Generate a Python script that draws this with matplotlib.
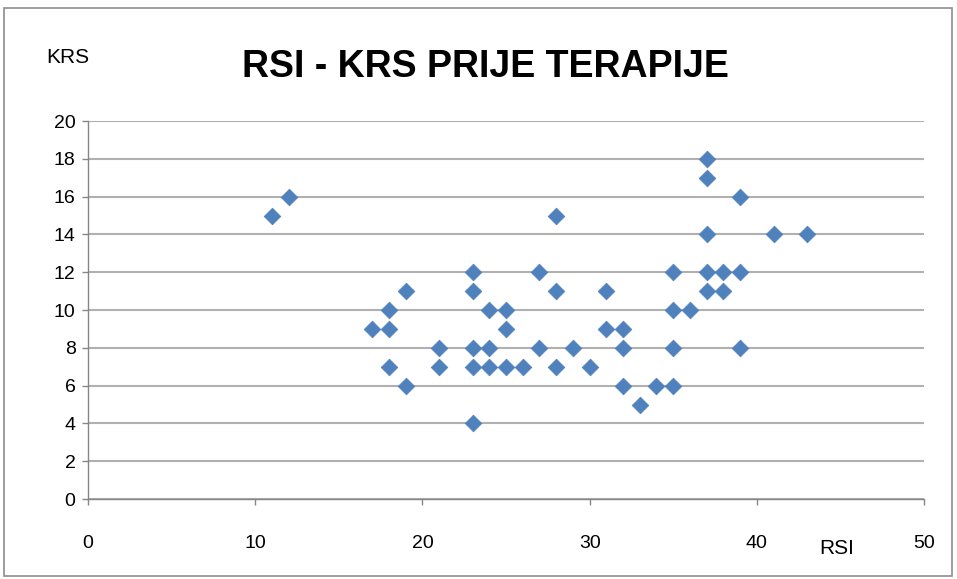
#!/usr/bin/env python3
'''RSI - KRS scatter before therapy'''

import matplotlib
matplotlib.use('Agg')
import matplotlib.pyplot as plt
from matplotlib.patches import Rectangle

plt.rcParams['font.family'] = ['Liberation Sans Narrow', 'Liberation Sans', 'DejaVu Sans']

# RSI / KRS pairs
rsi = [11, 12,
       17, 18, 18, 18, 19, 19,
       21, 21,
       23, 23, 23, 23, 23,
       24, 24, 24,
       25, 25, 25,
       26,
       27, 27,
       28, 28, 28,
       29, 30,
       31, 31,
       32, 32, 32,
       33, 34,
       35, 35, 35, 35,
       36,
       37, 37, 37, 37, 37,
       38, 38,
       39, 39, 39,
       41, 43]
krs = [15, 16,
       9, 10, 9, 7, 11, 6,
       8, 7,
       12, 11, 8, 7, 4,
       10, 8, 7,
       10, 9, 7,
       7,
       12, 8,
       15, 11, 7,
       8, 7,
       11, 9,
       9, 8, 6,
       5, 6,
       12, 10, 8, 6,
       10,
       18, 17, 14, 12, 11,
       12, 11,
       16, 12, 8,
       14, 14]

x_ticks = [0, 10, 20, 30, 40, 50]
y_ticks = list(range(0, 21, 2))

fig = plt.figure(figsize=(9.57, 5.79), dpi=100)
ax = fig.add_axes([0.092, 0.138, 0.8735, 0.653])

ax.scatter(rsi, krs, marker='D', s=8.5 ** 2, color='#4F81BD',
           edgecolors='#4F81BD', linewidths=0.5, zorder=3)

ax.set_xlim(0, 50)
ax.set_ylim(0, 20)
ax.set_xticks(x_ticks)
ax.set_yticks(y_ticks)
ax.yaxis.grid(True, color='#B0B0B0', linewidth=1.5)
ax.set_axisbelow(True)

for side in ['top', 'right']:
    ax.spines[side].set_visible(False)
for side in ['left', 'bottom']:
    ax.spines[side].set_color('#868686')
    ax.spines[side].set_linewidth(1.0)

ax.tick_params(axis='y', direction='out', length=4, width=1, color='#868686',
               pad=5, labelsize=14)
ax.tick_params(axis='x', direction='out', length=4, width=1, color='#868686',
               pad=22, labelsize=14)

fig.text(0.507, 0.885, 'RSI - KRS PRIJE TERAPIJE', ha='center', va='center',
         fontsize=27, fontweight='bold')
fig.text(0.071, 0.9, 'KRS', ha='center', va='center', fontsize=15)
fig.text(0.874, 0.053, 'RSI', ha='center', va='center', fontsize=15)

# chart-area border
fig.patches.append(Rectangle((0.004, 0.006), 0.991, 0.981, transform=fig.transFigure,
                             fill=False, edgecolor='#8C8C8C', linewidth=1.2))

fig.savefig('out.png', dpi=100)
